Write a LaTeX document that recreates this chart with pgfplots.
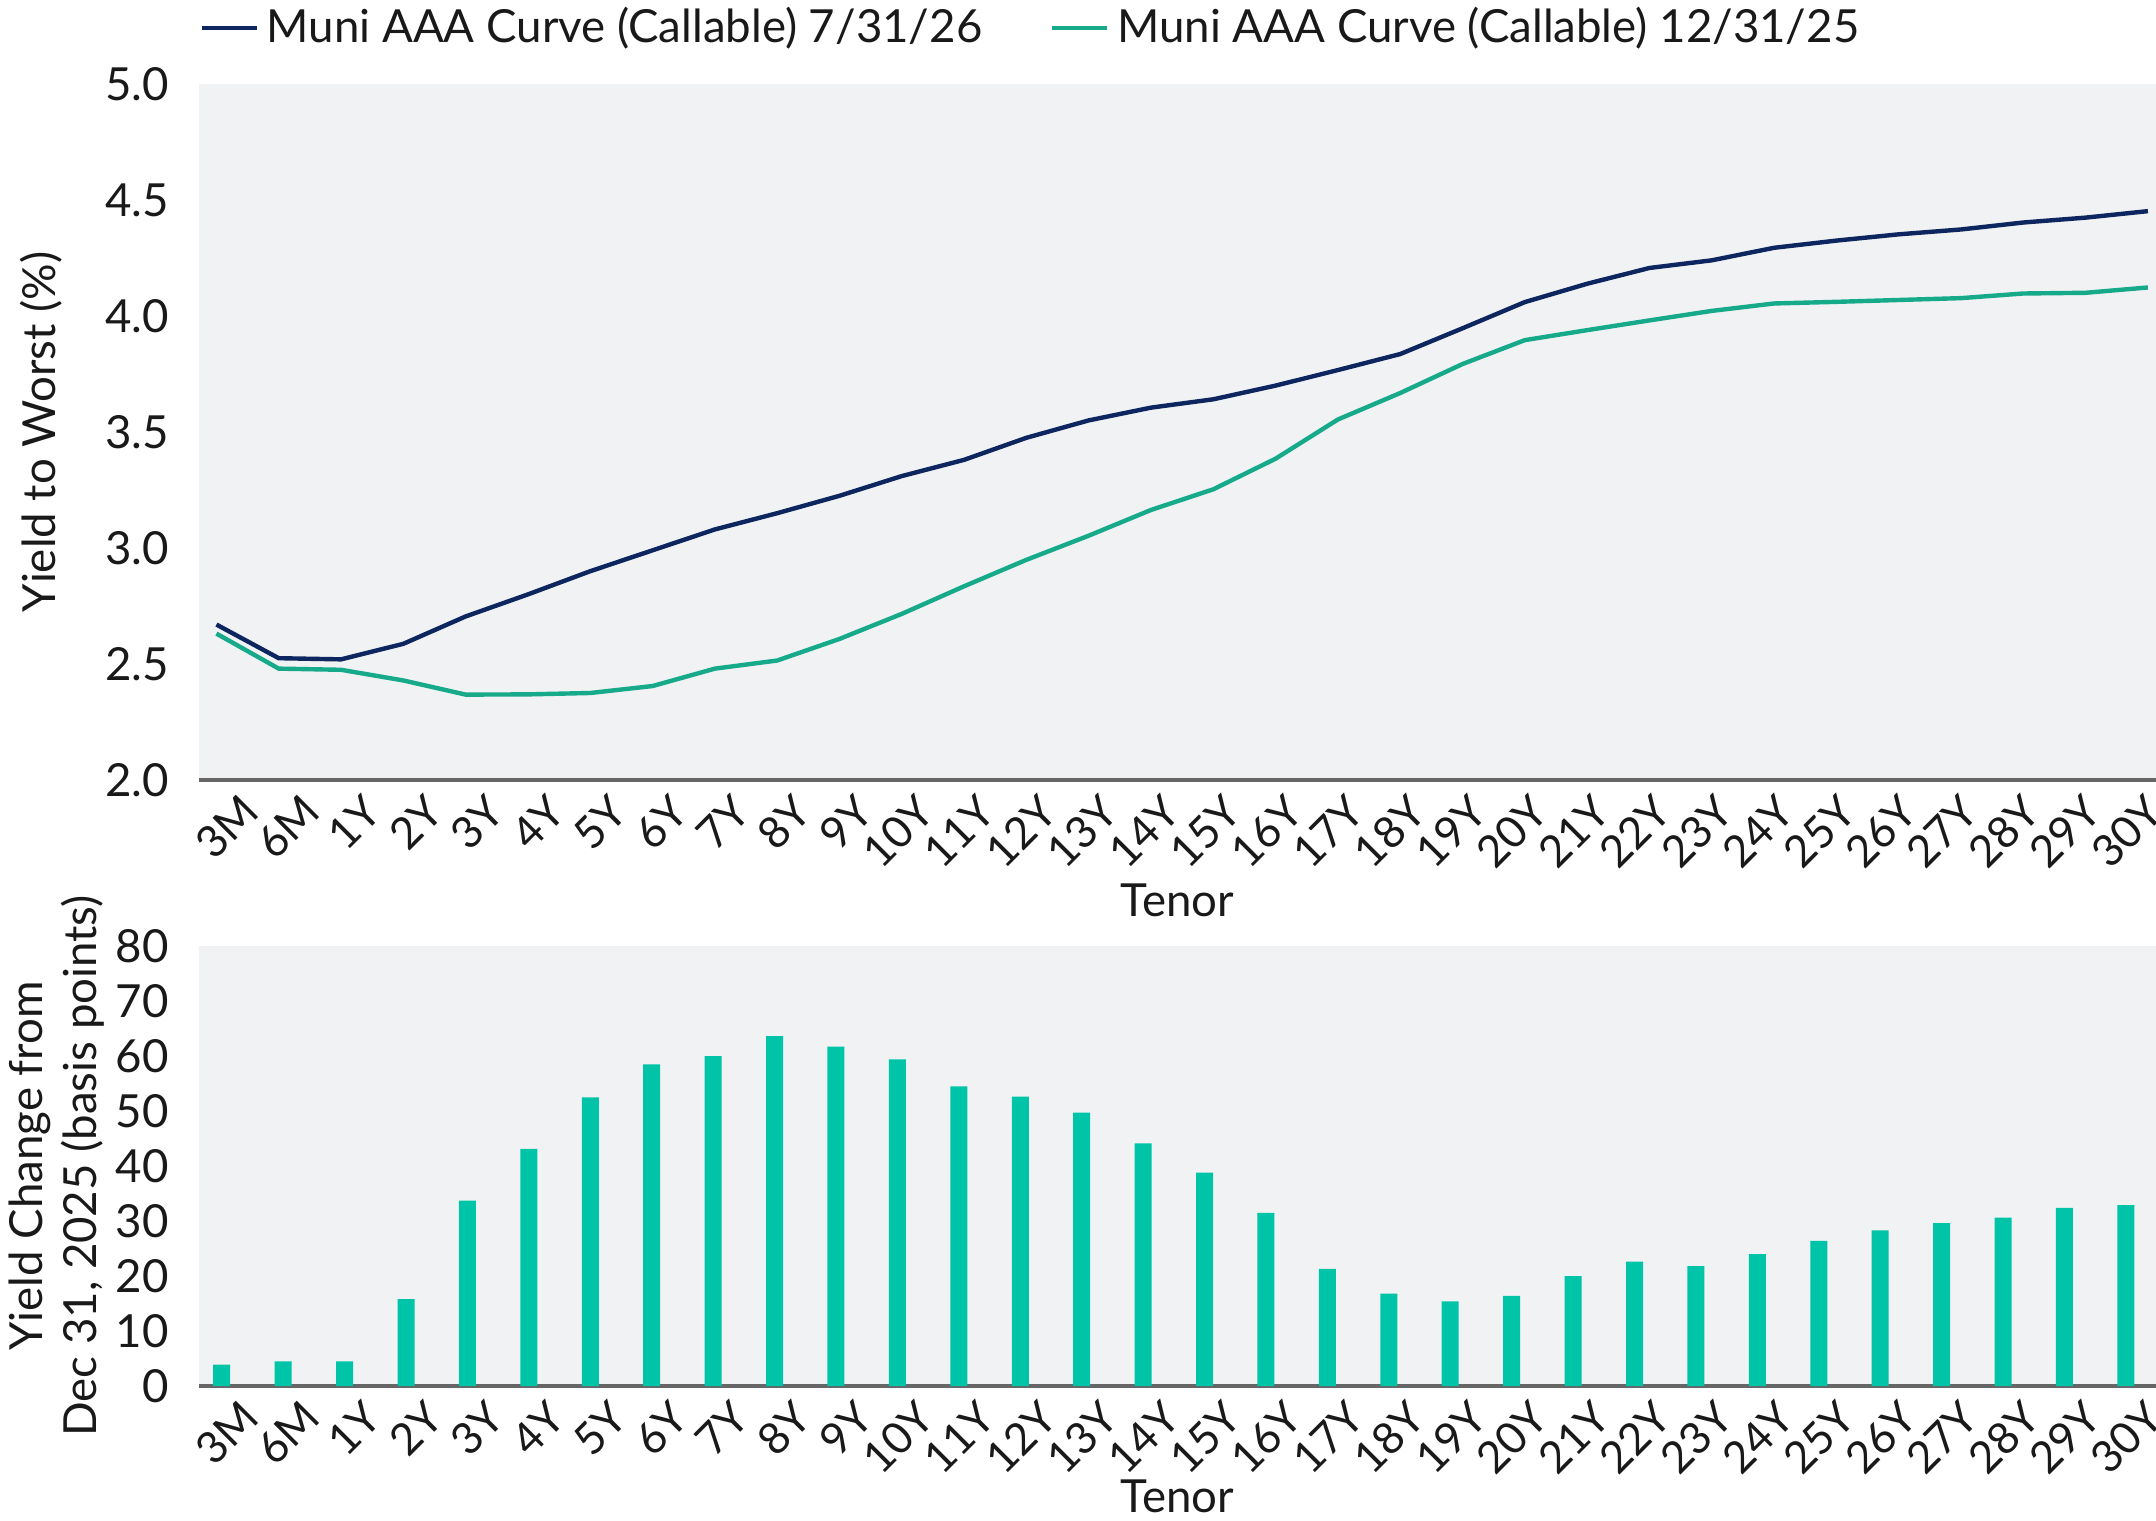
\documentclass[border=0pt]{standalone}
\usepackage{fontspec}
\setmainfont{Lato}
\usepackage{pgfplots}
\usepackage{pgfplotstable}
\pgfplotsset{compat=1.18}
\definecolor{navy}{RGB}{14,38,95}
\definecolor{tealline}{RGB}{22,170,138}
\definecolor{tealbar}{RGB}{0,196,167}
\definecolor{bg}{RGB}{240,242,244}
\definecolor{txt}{RGB}{25,25,25}
\pgfplotstableread{
x blue green chg
0  2.670 2.631 3.9
1  2.525 2.480 4.5
2  2.520 2.475 4.5
3  2.587 2.429 15.8
4  2.705 2.368 33.7
5  2.800 2.369 43.1
6  2.900 2.375 52.5
7  2.990 2.405 58.5
8  3.080 2.480 60.0
9  3.150 2.515 63.6
10 3.225 2.608 61.7
11 3.310 2.716 59.4
12 3.380 2.835 54.5
13 3.475 2.949 52.6
14 3.550 3.053 49.7
15 3.605 3.164 44.1
16 3.641 3.253 38.8
17 3.700 3.385 31.5
18 3.767 3.554 21.3
19 3.836 3.668 16.8
20 3.947 3.793 15.4
21 4.060 3.896 16.4
22 4.139 3.939 20.0
23 4.207 3.981 22.6
24 4.240 4.022 21.8
25 4.294 4.054 24.0
26 4.325 4.061 26.4
27 4.352 4.069 28.3
28 4.373 4.077 29.6
29 4.403 4.097 30.6
30 4.424 4.100 32.4
31 4.452 4.123 32.9
}\datatable
\pgfplotsset{
  common/.style={
    scale only axis,
    width=489.25pt,
    axis background/.style={fill=bg},
    axis x line*=bottom,
    axis y line*=left,
    y axis line style={draw=none},
    x axis line style={draw=gray!80!black, line width=0.9pt},
    major tick length=0pt,
    tick label style={font=\fontsize{11.4}{13.5}\selectfont, text=txt},
    label style={font=\fontsize{11.4}{13.5}\selectfont, text=txt},
    /pgf/number format/assume math mode=true,
    xticklabels={3M,6M,1Y,2Y,3Y,4Y,5Y,6Y,7Y,8Y,9Y,10Y,11Y,12Y,13Y,14Y,15Y,16Y,17Y,18Y,19Y,20Y,21Y,22Y,23Y,24Y,25Y,26Y,27Y,28Y,29Y,30Y},
    xticklabel style={font=\fontsize{11}{13}\selectfont, rotate=45, anchor=north east, inner sep=0.5pt, xshift=1.5pt, yshift=-4.5pt},
    xlabel={Tenor},
    yticklabel style={xshift=-4pt},
  }
}
\begin{document}
\begin{tikzpicture}
\begin{axis}[common,
  at={(49.75pt,-21pt)}, anchor=north west,
  height=174pt,
  xmin=-0.28, xmax=31.13,
  xtick={0.087,1.0729,...,30.66},
  ymin=2, ymax=5,
  ytick={2,2.5,3,3.5,4,4.5,5},
  yticklabel style={/pgf/number format/.cd, fixed, fixed zerofill, precision=1},
  xlabel style={at={(axis description cs:0.5,0)}, anchor=center, yshift=-30pt},
  ylabel={Yield to Worst (\%)},
  ylabel style={at={(axis description cs:0,0.5)}, anchor=center, yshift=39.5pt},
  legend style={at={(axis description cs:0,1)}, anchor=west, yshift=14pt, draw=none, fill=none,
    legend columns=2, font=\fontsize{11.4}{13.5}\selectfont, text=txt, inner sep=0pt,
    /tikz/every even column/.append style={column sep=15pt}},
  legend image code/.code={\draw[#1, line width=1pt] (0pt,0pt) -- (13.75pt,0pt);},
]
\addplot[navy, line width=1.1pt] table[x=x, y=blue] {\datatable};
\addlegendentry{Muni AAA Curve (Callable) 7/31/26}
\addplot[tealline, line width=1.1pt] table[x=x, y=green] {\datatable};
\addlegendentry{Muni AAA Curve (Callable) 12/31/25}
\end{axis}
\begin{axis}[common,
  at={(49.75pt,-236.5pt)}, anchor=north west,
  height=110pt,
  xmin=-0.37, xmax=31.49,
  xtick={0,...,31},
  ymin=0, ymax=80,
  ytick={0,10,...,80},
  xlabel style={at={(axis description cs:0.5,0)}, anchor=center, yshift=-27.5pt},
  ylabel={Yield Change from\\Dec 31, 2025 (basis points)},
  ylabel style={at={(axis description cs:0,0.5)}, anchor=center, yshift=35.5pt, align=center},
  ybar, bar width=4.25pt,
]
\addplot[fill=tealbar, draw=none] table[x=x, y=chg] {\datatable};
\end{axis}
\pgfresetboundingbox
\path (0,0) rectangle (539pt,-380.25pt);
\end{tikzpicture}
\end{document}
